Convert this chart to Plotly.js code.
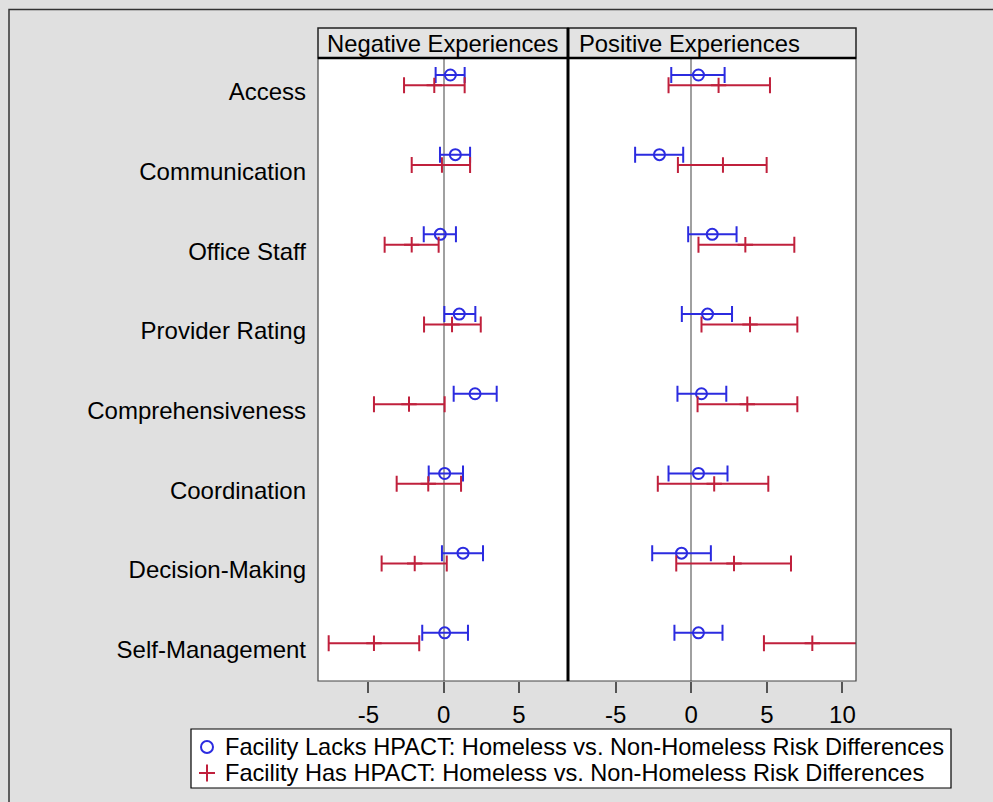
<!DOCTYPE html>
<html>
<head>
<meta charset="utf-8">
<script src="https://cdn.plot.ly/plotly-3.0.1.min.js"></script>
<style>html,body{margin:0;padding:0;background:#e0e0e0;}#chart{width:993px;height:802px;}</style>
</head>
<body>
<div id="chart"></div>
<script>
// ---- data ----
const categories = ['Access','Communication','Office Staff','Provider Rating','Comprehensiveness','Coordination','Decision-Making','Self-Management'];
const panelTitles = ['Negative Experiences','Positive Experiences'];
const seriesNames = ['Facility Lacks HPACT: Homeless vs. Non-Homeless Risk Differences',
                     'Facility Has HPACT: Homeless vs. Non-Homeless Risk Differences'];
const xTicksNeg = [-5, 0, 5];
const xTickLabelsNeg = ['-5', '0', '5'];
const xTicksPos = [-5, 0, 5, 10];
const xTickLabelsPos = ['-5', '0', '5', '10'];

// Negative experiences
const negLacksMid = [0.45, 0.78, -0.22, 1.04, 2.09, 0.07, 1.29, 0.07];
const negLacksLo  = [-0.53, -0.24, -1.32, 0.05, 0.67, -0.99, -0.11, -1.42];
const negLacksHi  = [1.40, 1.76, 0.82, 2.11, 3.53, 1.29, 2.62, 1.62];
const negHasMid   = [-0.62, -0.11, -2.12, 0.56, -2.30, -1.02, -1.92, -4.63];
const negHasLo    = [-2.63, -2.12, -3.92, -1.30, -4.63, -3.12, -4.12, -7.64];
const negHasHi    = [1.40, 1.76, -0.33, 2.47, 0.07, 1.16, 0.21, -1.62];

// Positive experiences
const posLacksMid = [0.48, -2.10, 1.39, 1.08, 0.68, 0.48, -0.64, 0.48];
const posLacksLo  = [-1.32, -3.71, -0.20, -0.62, -0.91, -1.50, -2.58, -1.11];
const posLacksHi  = [2.21, -0.53, 3.00, 2.70, 2.32, 2.40, 1.30, 2.07];
const posHasMid   = [1.81, 2.10, 3.58, 3.89, 3.71, 1.52, 2.83, 8.01];
const posHasLo    = [-1.50, -0.88, 0.48, 0.68, 0.42, -2.21, -0.99, 4.81];
const posHasHi    = [5.21, 4.99, 6.82, 7.02, 7.02, 5.10, 6.60, 11.2];

// ---- styling / layout helpers ----
const W = 993, H = 802;
const px = x => x / W;
const py = y => 1 - y / H;
const FONT = 'Liberation Sans, Arial, Helvetica, sans-serif';
const FS = 24;
const FS_HDR = 23.8;
const FS_LEG = 23.6;
const BLUE = '#2b2be0';
const RED = '#c0203c';
const COLORS = [BLUE, RED];
const SYMBOLS = ['circle-open', 'cross-thin-open'];
const LACKS_OFF = -0.21, HAS_OFF = -0.08;
const idx = categories.map((c, i) => i);

function trace(mid, lo, hi, off, k, xa, ya) {
  return {
    type: 'scatter', mode: 'markers', name: seriesNames[k], showlegend: false,
    x: mid, y: idx.map(i => i + off), xaxis: xa, yaxis: ya,
    marker: {symbol: SYMBOLS[k], size: 11, color: COLORS[k], line: {color: COLORS[k], width: 2}},
    error_x: {type: 'data', symmetric: false,
              array: mid.map((m, i) => hi[i] - m),
              arrayminus: mid.map((m, i) => m - lo[i]),
              color: COLORS[k], thickness: 2, width: 8}
  };
}

const data = [
  trace(negLacksMid, negLacksLo, negLacksHi, LACKS_OFF, 0, 'x', 'y'),
  trace(negHasMid, negHasLo, negHasHi, HAS_OFF, 1, 'x', 'y'),
  trace(posLacksMid, posLacksLo, posLacksHi, LACKS_OFF, 0, 'x2', 'y2'),
  trace(posHasMid, posHasLo, posHasHi, HAS_OFF, 1, 'x2', 'y2'),
  // legend key symbols, placed on a small categorical axis whose tick labels are the series names
  {type: 'scatter', mode: 'markers', showlegend: false, hoverinfo: 'skip',
   x: seriesNames.map(() => 0), y: seriesNames, xaxis: 'x3', yaxis: 'y3',
   marker: {symbol: SYMBOLS, size: 12, color: COLORS, line: {color: COLORS, width: 2}}}
];

const XD1 = [px(318), px(568)], XD2 = [px(568), px(856)];
const YD = [py(681), py(58)];
const HDR_TOP = py(28);

const xCommon = {
  showgrid: false, zeroline: true, zerolinecolor: '#a0a0a0', zerolinewidth: 2,
  ticks: 'outside', ticklen: 11, tickwidth: 2, tickcolor: '#555',
  tickfont: {family: FONT, size: FS, color: '#000'}, showline: false,
  ticklabelstandoff: 1, fixedrange: true, tickmode: 'array'
};

const layout = {
  width: W, height: H,
  margin: {l: 0, r: 0, t: 0, b: 0, autoexpand: false},
  paper_bgcolor: '#e0e0e0', plot_bgcolor: '#ffffff',
  font: {family: FONT, size: FS, color: '#000'},
  showlegend: false,
  xaxis: Object.assign({}, xCommon, {domain: XD1, range: [-8.35, 8.27], tickvals: xTicksNeg, ticktext: xTickLabelsNeg, anchor: 'y'}),
  xaxis2: Object.assign({}, xCommon, {domain: XD2, range: [-8.15, 10.9], tickvals: xTicksPos, ticktext: xTickLabelsPos, anchor: 'y2'}),
  yaxis: {domain: YD, range: [7.394, -0.423], tickmode: 'array', tickvals: idx, ticktext: categories,
          showgrid: false, zeroline: false, ticks: '', showline: false, ticklabelstandoff: 11,
          tickfont: {family: FONT, size: FS, color: '#000'}, anchor: 'x', fixedrange: true},
  yaxis2: {domain: YD, range: [7.394, -0.423], showticklabels: false, showgrid: false, zeroline: false,
           ticks: '', showline: false, anchor: 'x2', fixedrange: true},
  // legend key axes
  xaxis3: {domain: [px(199), px(215)], range: [-1, 1], visible: false, anchor: 'y3', fixedrange: true},
  yaxis3: {domain: [py(786), py(734)], type: 'category', range: [1.5, -0.5], side: 'right', anchor: 'x3',
           tickmode: 'array', tickvals: seriesNames, ticktext: seriesNames,
           showgrid: false, zeroline: false, showline: false, ticks: '', ticklabelstandoff: 9,
           tickfont: {family: FONT, size: FS_LEG, color: '#000'}, fixedrange: true},
  shapes: [
    // outer frame
    {type: 'rect', xref: 'paper', yref: 'paper', x0: px(9), x1: 1.2, y0: -0.2, y1: py(9.5),
     line: {color: '#333', width: 1.5}, fillcolor: 'rgba(0,0,0,0)', layer: 'below'},
    // legend box
    {type: 'rect', xref: 'paper', yref: 'paper', x0: px(191), x1: px(951), y0: py(788), y1: py(729),
     line: {color: '#000', width: 1.2}, fillcolor: '#ffffff', layer: 'below'},
    // header boxes
    {type: 'rect', xref: 'paper', yref: 'paper', x0: XD1[0], x1: XD1[1], y0: YD[1], y1: HDR_TOP,
     line: {color: '#222', width: 1.5}, fillcolor: '#e3e3e3'},
    {type: 'rect', xref: 'paper', yref: 'paper', x0: XD2[0], x1: XD2[1], y0: YD[1], y1: HDR_TOP,
     line: {color: '#222', width: 1.5}, fillcolor: '#e3e3e3'},
    // panel frames
    {type: 'rect', xref: 'paper', yref: 'paper', x0: XD1[0], x1: XD1[1], y0: YD[0], y1: YD[1],
     line: {color: '#444', width: 1.2}, fillcolor: 'rgba(0,0,0,0)'},
    {type: 'rect', xref: 'paper', yref: 'paper', x0: XD2[0], x1: XD2[1], y0: YD[0], y1: YD[1],
     line: {color: '#444', width: 1.2}, fillcolor: 'rgba(0,0,0,0)'},
    // thick line under headers
    {type: 'line', xref: 'paper', yref: 'paper', x0: XD1[0], x1: XD2[1], y0: YD[1], y1: YD[1],
     line: {color: '#000', width: 2.5}},
    // thick separator
    {type: 'line', xref: 'paper', yref: 'paper', x0: XD1[1], x1: XD1[1], y0: YD[0], y1: HDR_TOP,
     line: {color: '#000', width: 3}}
  ],
  annotations: [
    {xref: 'paper', yref: 'paper', x: XD1[0], y: (YD[1] + HDR_TOP) / 2, xanchor: 'left', yanchor: 'middle', xshift: 7,
     text: panelTitles[0], showarrow: false, font: {family: FONT, size: FS_HDR, color: '#000'}},
    {xref: 'paper', yref: 'paper', x: XD2[0], y: (YD[1] + HDR_TOP) / 2, xanchor: 'left', yanchor: 'middle', xshift: 9,
     text: panelTitles[1], showarrow: false, font: {family: FONT, size: FS_HDR, color: '#000'}}
  ]
};

Plotly.newPlot('chart', data, layout, {displayModeBar: false, staticPlot: true});
</script>
</body>
</html>
